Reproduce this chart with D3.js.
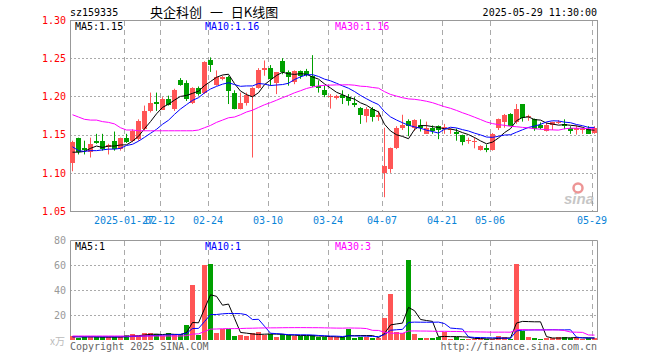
<!DOCTYPE html>
<html>
<head>
<meta charset="utf-8">
<script src="https://cdn.jsdelivr.net/npm/d3@7"></script>
<style>
body { margin: 0; background: #fff; }
svg { display: block; }
</style>
</head>
<body>
<svg></svg>
<script>
// Trading days shown (2025-01-14 .. 2025-05-29)
const dates = [
    "2025-01-14","2025-01-15","2025-01-16","2025-01-17","2025-01-20","2025-01-21","2025-01-22","2025-01-23","2025-01-24","2025-01-27",
    "2025-02-05","2025-02-06","2025-02-07","2025-02-10","2025-02-11","2025-02-12","2025-02-13","2025-02-14","2025-02-17","2025-02-18",
    "2025-02-19","2025-02-20","2025-02-21","2025-02-24","2025-02-25","2025-02-26","2025-02-27","2025-02-28","2025-03-03","2025-03-04",
    "2025-03-05","2025-03-06","2025-03-07","2025-03-10","2025-03-11","2025-03-12","2025-03-13","2025-03-14","2025-03-17","2025-03-18",
    "2025-03-19","2025-03-20","2025-03-21","2025-03-24","2025-03-25","2025-03-26","2025-03-27","2025-03-28","2025-03-31","2025-04-01",
    "2025-04-02","2025-04-03","2025-04-07","2025-04-08","2025-04-09","2025-04-10","2025-04-11","2025-04-14","2025-04-15","2025-04-16",
    "2025-04-17","2025-04-18","2025-04-21","2025-04-22","2025-04-23","2025-04-24","2025-04-25","2025-04-28","2025-04-29","2025-04-30",
    "2025-05-06","2025-05-07","2025-05-08","2025-05-09","2025-05-12","2025-05-13","2025-05-14","2025-05-15","2025-05-16","2025-05-19",
    "2025-05-20","2025-05-21","2025-05-22","2025-05-23","2025-05-26","2025-05-27","2025-05-28","2025-05-29"
];

const open = [
    1.113,1.145,1.133,1.127,1.142,1.142,1.134,1.142,1.131,1.145,
    1.142,1.144,1.157,1.181,1.193,1.183,1.197,1.183,1.221,1.218,
    1.192,1.211,1.205,1.247,1.215,1.224,1.226,1.205,1.184,1.191,
    1.201,1.212,1.235,1.237,1.218,1.246,1.232,1.218,1.233,1.233,
    1.227,1.214,1.209,1.199,1.197,1.202,1.199,1.192,1.185,1.175,
    1.184,1.173,1.100,1.105,1.133,1.158,1.168,1.158,1.162,1.151,
    1.159,1.161,1.158,1.156,1.153,1.149,1.142,1.140,1.130,1.133,
    1.130,1.158,1.167,1.177,1.166,1.190,1.173,1.171,1.162,1.155,
    1.162,1.166,1.164,1.158,1.156,1.156,1.157,1.152
];
const high = [
    1.142,1.146,1.142,1.146,1.151,1.151,1.138,1.154,1.146,1.151,
    1.157,1.170,1.188,1.205,1.205,1.199,1.201,1.210,1.224,1.221,
    1.212,1.213,1.246,1.251,1.234,1.227,1.227,1.208,1.205,1.205,
    1.212,1.237,1.247,1.241,1.232,1.250,1.234,1.234,1.234,1.236,
    1.254,1.221,1.214,1.203,1.202,1.208,1.203,1.199,1.186,1.186,
    1.186,1.181,1.159,1.133,1.161,1.176,1.170,1.170,1.170,1.167,
    1.162,1.162,1.164,1.158,1.158,1.150,1.146,1.146,1.136,1.137,
    1.152,1.171,1.177,1.178,1.190,1.190,1.176,1.171,1.166,1.166,
    1.167,1.169,1.170,1.161,1.162,1.159,1.161,1.161
];
const low = [
    1.102,1.124,1.124,1.120,1.138,1.129,1.124,1.129,1.129,1.139,
    1.140,1.142,1.155,1.179,1.181,1.183,1.188,1.181,1.214,1.194,
    1.190,1.201,1.203,1.232,1.214,1.221,1.190,1.183,1.183,1.188,
    1.120,1.210,1.227,1.214,1.203,1.229,1.214,1.216,1.223,1.226,
    1.212,1.205,1.199,1.184,1.196,1.190,1.188,1.186,1.164,1.166,
    1.167,1.168,1.068,1.100,1.131,1.156,1.148,1.155,1.154,1.151,
    1.151,1.144,1.151,1.151,1.142,1.136,1.138,1.132,1.129,1.127,
    1.129,1.156,1.159,1.161,1.164,1.167,1.168,1.155,1.157,1.154,
    1.156,1.164,1.157,1.151,1.150,1.151,1.151,1.151
];
const close = [
    1.140,1.127,1.131,1.138,1.139,1.131,1.136,1.131,1.145,1.140,
    1.155,1.168,1.181,1.191,1.191,1.197,1.189,1.208,1.215,1.197,
    1.211,1.203,1.245,1.241,1.225,1.226,1.208,1.184,1.192,1.202,
    1.211,1.235,1.237,1.222,1.232,1.232,1.225,1.233,1.227,1.228,
    1.214,1.211,1.202,1.200,1.200,1.198,1.194,1.190,1.176,1.184,
    1.173,1.176,1.109,1.132,1.159,1.162,1.161,1.169,1.158,1.159,
    1.155,1.156,1.160,1.157,1.150,1.140,1.143,1.141,1.135,1.131,
    1.151,1.170,1.176,1.161,1.183,1.172,1.174,1.158,1.158,1.163,
    1.166,1.167,1.161,1.154,1.159,1.157,1.151,1.158
];
// volume in 万
const volume = [
    3.2,1.9,2.7,2.7,2.1,2.1,2.1,2.7,2.7,4.0,
    4.8,3.2,5.3,5.3,4.8,3.2,5.3,4.0,4.8,12,
    44,4.0,60,60.8,5.9,8.5,8.5,3.2,4.0,3.2,
    5.3,6.4,4.3,4.8,2.7,4.8,3.7,3.2,3.2,3.2,
    3.7,2.7,2.1,2.1,2.1,2.1,9.0,1.9,2.7,2.1,
    1.9,1.3,17.9,37,6.1,5.3,64,4.8,1.9,1.9,
    1.9,2.4,6.1,1.1,2.1,1.1,1.1,0.8,0.8,0.8,
    0.8,3.2,2.4,0.8,60.8,7.2,2.4,1.6,0.8,1.6,
    1.6,2.1,2.1,1.6,2.1,1.1,1.6,1.6
];

// MA values at the left edge whose window reaches before the first candle
const priceMA5Head = [1.127,1.127,1.128,1.132];
const priceMA10Head = [1.134,1.129,1.128,1.129,1.129,1.130,1.131,1.131,1.132];
const priceMA30Head = [
    1.176,1.173,1.170,1.169,1.169,1.167,1.166,1.164,1.159,1.156,
    1.156,1.155,1.155,1.155,1.155,1.155,1.155,1.155,1.155,1.155,
    1.155,1.156,1.159,1.162,1.166,1.169,1.172,1.173,1.176
];
const volMA5Head = [2.6,2.6,2.5,2.6];
const volMA10Head = [2.6,2.6,2.6,2.6,2.6,2.6,2.6,2.6,2.6];
const volMA30Head = [
    3.2,3.2,3.2,3.2,3.2,3.2,3.2,3.2,3.2,3.2,
    3.2,3.2,3.2,3.2,3.2,3.2,3.2,3.2,3.2,3.5,
    4.8,4.9,6.8,8.7,8.8,9.0,9.1,9.1,9.2
];

// Axis ticks and labels
const priceTicks = [1.30, 1.25, 1.20, 1.15, 1.10, 1.05];
const volTicks = [80, 60, 40, 20];
const tickDates = ["2025-01-27","2025-02-12","2025-02-24","2025-03-10","2025-03-24","2025-04-07","2025-04-21","2025-05-06","2025-05-29"];
const tickLabels = ["2025-01-27","02-12","02-24","03-10","03-24","04-07","04-21","05-06","05-29"];
const priceLegend = ["MA5:1.15", "MA10:1.16", "MA30:1.16"];
const volLegend = ["MA5:1", "MA10:1", "MA30:3"];

const width = 660;
const height = 360;
const left = 70, right = 597;
const mono = "'DejaVu Sans Mono', monospace";
const red = "#ff5555", green = "#00a000";
const maColors = ["#000000", "#0000ff", "#ff00ff"];

const svg = d3.select("svg")
    .attr("width", width)
    .attr("height", height)
    .style("font-family", mono);

// Scales
const xScale = d3.scaleBand()
    .domain(dates)
    .range([69, 597]);

const yPrice = d3.scaleLinear()
    .domain([1.05, 1.30])
    .range([211, 20]);

const yVol = d3.scaleLinear()
    .domain([0, 80])
    .range([340, 240]);

const crisp = v => Math.round(v) + 0.5;
const gridX = d => crisp(xScale(d) + 1);

function movingAvg(values, n, head) {
    return values.map((v, i) => i < n - 1 ? head[i] : d3.mean(values.slice(i - n + 1, i + 1)));
}

const candles = dates.map((d, i) => ({
    date: d, o: open[i], h: high[i], l: low[i], c: close[i], v: volume[i]
}));
const colorOf = d => d.c >= d.o ? red : green;

// ---------- price panel ----------
svg.append("g")
    .selectAll("line")
    .data(priceTicks.slice(1, -1))
    .enter()
    .append("line")
    .attr("x1", left).attr("x2", right)
    .attr("y1", d => crisp(yPrice(d)))
    .attr("y2", d => crisp(yPrice(d)))
    .attr("stroke", "#aaa")
    .attr("stroke-dasharray", "2,2");

svg.append("g")
    .selectAll("line")
    .data(tickDates)
    .enter()
    .append("line")
    .attr("x1", gridX).attr("x2", gridX)
    .attr("y1", 21).attr("y2", 211)
    .attr("stroke", "#aaa")
    .attr("stroke-dasharray", "5,4");

svg.append("rect")
    .attr("x", left + 0.5).attr("y", 20.5)
    .attr("width", right - left).attr("height", 191)
    .attr("fill", "none")
    .attr("stroke", "#999");

// sina watermark
const logo = svg.append("g").attr("opacity", 0.55);
logo.append("circle")
    .attr("cx", 578).attr("cy", 188).attr("r", 4.5)
    .attr("fill", "none").attr("stroke", "#e04040").attr("stroke-width", 2.5);
logo.append("text")
    .attr("x", 564).attr("y", 204)
    .attr("font-family", "'Liberation Sans', Arial, sans-serif")
    .attr("font-style", "italic").attr("font-weight", "bold")
    .attr("font-size", 15)
    .attr("fill", "#999")
    .text("sina");

// candles
const candle = svg.append("g")
    .selectAll("g")
    .data(candles)
    .enter()
    .append("g");

candle.append("line")
    .attr("x1", d => xScale(d.date) + 3.5)
    .attr("x2", d => xScale(d.date) + 3.5)
    .attr("y1", d => yPrice(d.h))
    .attr("y2", d => yPrice(d.l))
    .attr("stroke", colorOf);

candle.append("rect")
    .attr("x", d => xScale(d.date) + 1)
    .attr("y", d => Math.round(yPrice(Math.max(d.o, d.c))))
    .attr("width", 5)
    .attr("height", d => Math.max(1, Math.round(Math.abs(yPrice(d.o) - yPrice(d.c)))))
    .attr("fill", colorOf)
    .attr("shape-rendering", "crispEdges");

const maLineX = (v, i) => xScale(dates[i]) + 3.5;

const priceMAs = [
    movingAvg(close, 5, priceMA5Head),
    movingAvg(close, 10, priceMA10Head),
    movingAvg(close, 30, priceMA30Head)
];
const priceLine = d3.line().x(maLineX).y(v => yPrice(v));

svg.append("g")
    .selectAll("path")
    .data(priceMAs)
    .enter()
    .append("path")
    .attr("d", priceLine)
    .attr("fill", "none")
    .attr("stroke", (d, i) => maColors[i])
    .attr("stroke-width", 1);

// ---------- volume panel ----------
svg.append("g")
    .selectAll("line")
    .data(volTicks.slice(1))
    .enter()
    .append("line")
    .attr("x1", left).attr("x2", right)
    .attr("y1", d => crisp(yVol(d)))
    .attr("y2", d => crisp(yVol(d)))
    .attr("stroke", "#aaa")
    .attr("stroke-dasharray", "2,2");

svg.append("g")
    .selectAll("line")
    .data(tickDates)
    .enter()
    .append("line")
    .attr("x1", gridX).attr("x2", gridX)
    .attr("y1", 241).attr("y2", 340)
    .attr("stroke", "#aaa")
    .attr("stroke-dasharray", "5,4");

svg.append("path")
    .attr("d", `M${left + 0.5},340V240.5H${right + 0.5}V340`)
    .attr("fill", "none")
    .attr("stroke", "#999");

svg.append("g")
    .selectAll("rect")
    .data(candles)
    .enter()
    .append("rect")
    .attr("x", d => xScale(d.date) + 1)
    .attr("y", d => Math.round(yVol(d.v)))
    .attr("width", 5)
    .attr("height", d => 340 - Math.round(yVol(d.v)))
    .attr("fill", colorOf)
    .attr("shape-rendering", "crispEdges");

const volMAs = [
    movingAvg(volume, 5, volMA5Head),
    movingAvg(volume, 10, volMA10Head),
    movingAvg(volume, 30, volMA30Head)
];
const volLine = d3.line().x(maLineX).y(v => yVol(v));

svg.append("g")
    .selectAll("path")
    .data(volMAs)
    .enter()
    .append("path")
    .attr("d", volLine)
    .attr("fill", "none")
    .attr("stroke", (d, i) => maColors[i])
    .attr("stroke-width", 1);

// ---------- axes ----------
const priceAxis = svg.append("g")
    .attr("transform", `translate(${left}, 0)`)
    .call(d3.axisLeft(yPrice).tickValues(priceTicks).tickSize(0).tickPadding(4).tickFormat(d3.format(".2f")));
priceAxis.select(".domain").remove();
priceAxis.attr("font-family", mono).attr("font-size", 10)
    .selectAll("text").attr("fill", "#ff0000");

const volAxis = svg.append("g")
    .attr("transform", `translate(${left}, 0)`)
    .call(d3.axisLeft(yVol).tickValues(volTicks).tickSize(0).tickPadding(4));
volAxis.select(".domain").remove();
volAxis.attr("font-family", mono).attr("font-size", 10)
    .selectAll("text").attr("fill", "#999");

const xAxis = svg.append("g")
    .attr("transform", "translate(-2, 214)")
    .call(d3.axisBottom(xScale).tickValues(tickDates).tickSize(0).tickPadding(3)
        .tickFormat((d, i) => tickLabels[i]));
xAxis.select(".domain").remove();
xAxis.attr("font-family", mono).attr("font-size", 10)
    .selectAll("text").attr("fill", "#0a84d8");

// ---------- texts ----------
svg.append("text")
    .attr("x", 70).attr("y", 16)
    .attr("font-size", 10)
    .text("sz159335");

svg.append("text")
    .attr("x", 150).attr("y", 17)
    .attr("font-family", "'Noto Sans CJK SC', sans-serif")
    .attr("font-size", 13)
    .attr("word-spacing", 5)
    .text("央企科创 一 日K线图");

svg.append("text")
    .attr("x", 597).attr("y", 16)
    .attr("text-anchor", "end")
    .attr("font-size", 10)
    .text("2025-05-29 11:30:00");

const legendX = [75, 205, 335];
svg.append("g")
    .selectAll("text")
    .data(priceLegend)
    .enter()
    .append("text")
    .attr("x", (d, i) => legendX[i]).attr("y", 30)
    .attr("font-size", 10)
    .attr("fill", (d, i) => maColors[i])
    .text(d => d);

svg.append("g")
    .selectAll("text")
    .data(volLegend)
    .enter()
    .append("text")
    .attr("x", (d, i) => legendX[i]).attr("y", 250)
    .attr("font-size", 10)
    .attr("fill", (d, i) => maColors[i])
    .text(d => d);

svg.append("text")
    .attr("x", 65).attr("y", 345)
    .attr("text-anchor", "end")
    .attr("font-family", "'Noto Sans CJK SC', sans-serif")
    .attr("font-size", 10)
    .attr("fill", "#bbb")
    .text("x万");

svg.append("text")
    .attr("x", 70).attr("y", 350)
    .attr("font-size", 10)
    .attr("fill", "#666")
    .text("Copyright 2025 SINA.COM");

svg.append("text")
    .attr("x", 597).attr("y", 350)
    .attr("text-anchor", "end")
    .attr("font-size", 10)
    .attr("fill", "#666")
    .text("http://finance.sina.com.cn");
</script>
</body>
</html>
